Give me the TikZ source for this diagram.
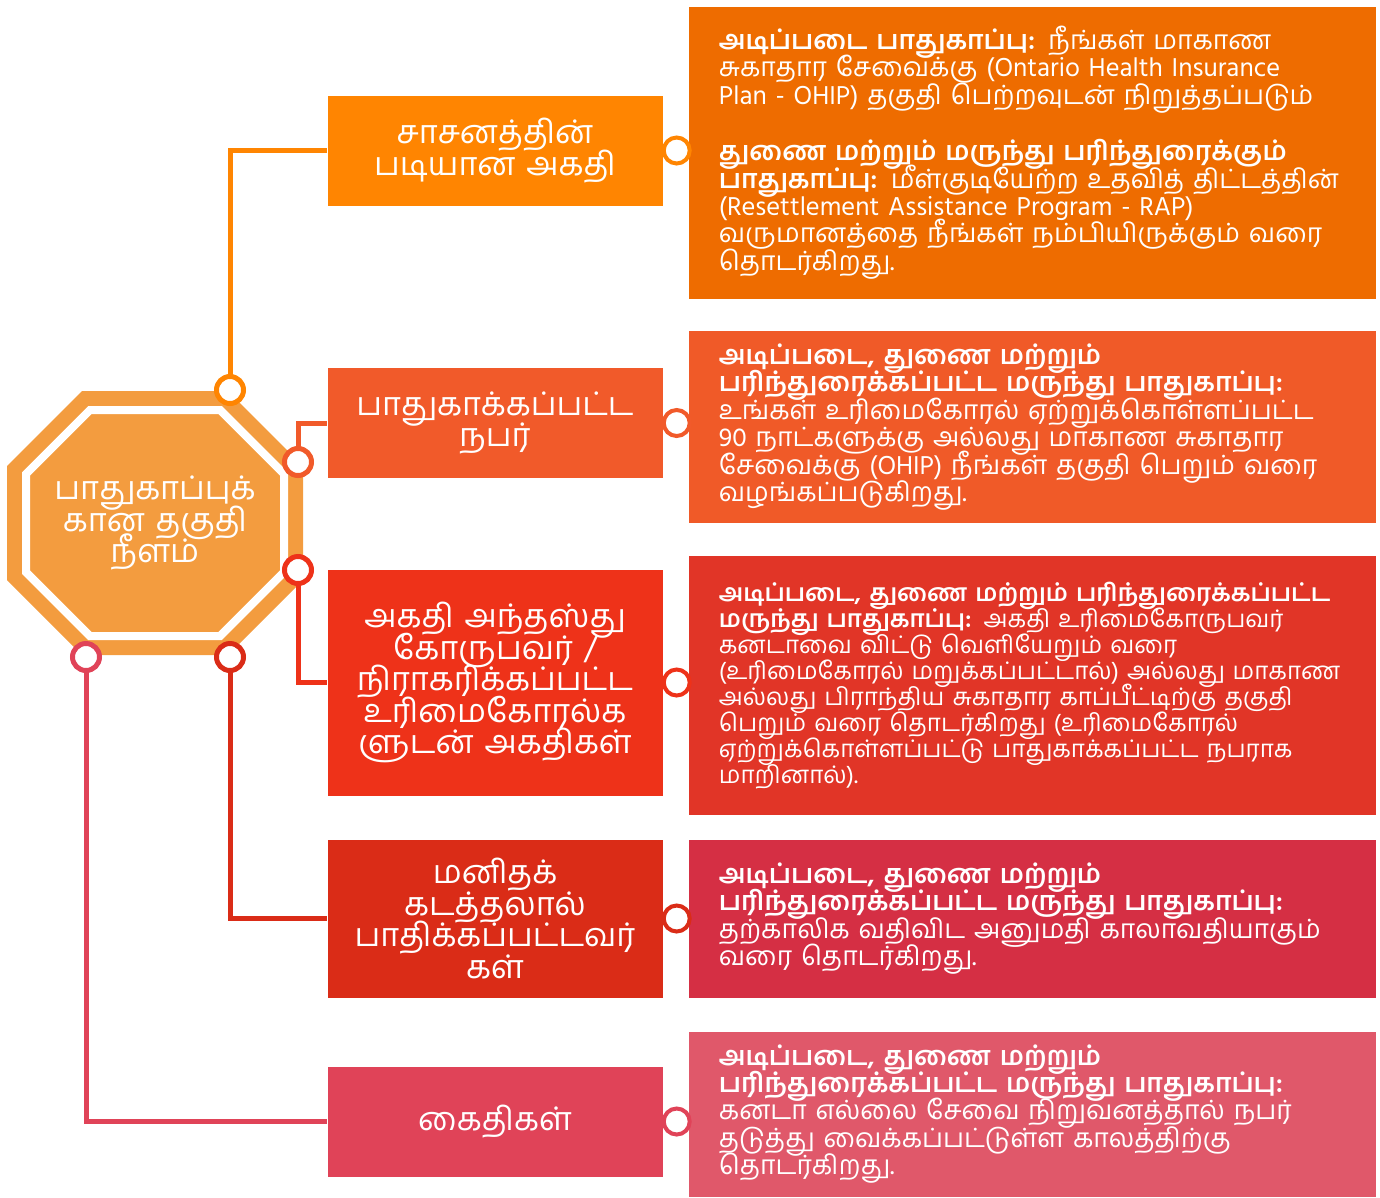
\documentclass[tikz,border=0pt]{standalone}
\usepackage{fontspec}
\setmainfont{Hind Madurai}[Script=Tamil]
\usetikzlibrary{positioning}

\definecolor{octcol}{HTML}{F39C3F}
\definecolor{midacol}{HTML}{FF8501}
\definecolor{midbcol}{HTML}{F15A2A}
\definecolor{midccol}{HTML}{EE3219}
\definecolor{middcol}{HTML}{DA2C17}
\definecolor{midecol}{HTML}{E04358}
\definecolor{infoacol}{HTML}{EE6C00}
\definecolor{infobcol}{HTML}{F05A28}
\definecolor{infoccol}{HTML}{E13527}
\definecolor{infodcol}{HTML}{D52F44}
\definecolor{infoecol}{HTML}{E0586A}

\newcommand{\midfont}{\fontsize{32.5}{31.5}\selectfont\lineskiplimit=-40pt}
\newcommand{\infofont}{\fontsize{26.5}{27.4}\selectfont\lineskiplimit=-40pt}
\newcommand{\infosmallfont}{\fontsize{24.2}{25.9}\selectfont\lineskiplimit=-40pt}

\tikzstyle{midbox}=[rectangle, text=white, minimum width=335pt, minimum height=110pt, inner sep=2pt, text centered, text width=325pt, font=\midfont]
\tikzstyle{infobox}=[rectangle, text=white, inner xsep=30pt, inner ysep=4pt, text width=627pt, align=left, font=\infofont]
\tikzstyle{octtext}=[text=white, text centered, text width=240pt, font=\midfont]
\tikzstyle{dot}=[circle, fill=white, line width=4pt, minimum size=26pt, inner sep=0pt]
\tikzstyle{bigdot}=[dot, line width=5pt, minimum size=27pt]
\tikzstyle{link}=[-, line width=5pt]

\begin{document}
\begin{tikzpicture}[x=1pt, y=-1pt]
\useasboundingbox (0,0) rectangle (1380,1197);

% octagon
    \fill[octcol] (82,391) -- (228,391) -- (303,466) -- (303,580) -- (228,655) -- (82,655) -- (7,580) -- (7,466) -- cycle;
    \draw[white, line width=8pt] (89.9,410) -- (220.1,410) -- (284,473.9) -- (284,572.1) -- (220.1,636) -- (89.9,636) -- (26,572.1) -- (26,473.9) -- cycle;
    \node (oct) [octtext] at (155,523) {பாதுகாப்புக்\\கான தகுதி\\நீளம்};

% middle boxes
    \node (mida) [midbox, fill=midacol] at (495,150.5) {சாசனத்தின்\\படியான அகதி};
    \node (midb) [midbox, fill=midbcol] at (495,423) {பாதுகாக்கப்பட்ட\\நபர்};
    \node (midc) [midbox, fill=midccol, minimum height=226pt] at (495,682.5) {அகதி அந்தஸ்து\\கோருபவர் /\\நிராகரிக்கப்பட்ட\\உரிமைகோரல்க\\ளுடன் அகதிகள்};
    \node (midd) [midbox, fill=middcol, minimum height=158pt] at (495,918.5) {மனிதக்\\கடத்தலால்\\பாதிக்கப்பட்டவர்\\கள்};
    \node (mide) [midbox, fill=midecol] at (495,1121.5) {கைதிகள்};

% info boxes
    \node (infoa) [infobox, fill=infoacol, minimum height=292pt, right=26pt of mida, yshift=-2pt]
    {\textbf{அடிப்படை பாதுகாப்பு:} நீங்கள் மாகாண\\
    சுகாதார சேவைக்கு (Ontario Health Insurance\\
    Plan - OHIP) தகுதி பெற்றவுடன் நிறுத்தப்படும்\\[29pt]
    \textbf{துணை மற்றும் மருந்து பரிந்துரைக்கும்}\\
    \textbf{பாதுகாப்பு:} மீள்குடியேற்ற உதவித் திட்டத்தின்\\
    (Resettlement Assistance Program - RAP)\\
    வருமானத்தை நீங்கள் நம்பியிருக்கும் வரை\\
    தொடர்கிறது.};
    \node (infob) [infobox, fill=infobcol, minimum height=192pt, right=26pt of midb, yshift=-4pt]
    {\textbf{அடிப்படை, துணை மற்றும்}\\
    \textbf{பரிந்துரைக்கப்பட்ட மருந்து பாதுகாப்பு:}\\
    உங்கள் உரிமைகோரல் ஏற்றுக்கொள்ளப்பட்ட\\
    90 நாட்களுக்கு அல்லது மாகாண சுகாதார\\
    சேவைக்கு (OHIP) நீங்கள் தகுதி பெறும் வரை\\
    வழங்கப்படுகிறது.};
    \node (infoc) [infobox, fill=infoccol, minimum height=259pt, right=26pt of midc, yshift=-3pt, font=\infosmallfont]
    {\textbf{அடிப்படை, துணை மற்றும் பரிந்துரைக்கப்பட்ட}\\
    \textbf{மருந்து பாதுகாப்பு:} அகதி உரிமைகோருபவர்\\
    கனடாவை விட்டு வெளியேறும் வரை\\
    (உரிமைகோரல் மறுக்கப்பட்டால்) அல்லது மாகாண\\
    அல்லது பிராந்திய சுகாதார காப்பீட்டிற்கு தகுதி\\
    பெறும் வரை தொடர்கிறது (உரிமைகோரல்\\
    ஏற்றுக்கொள்ளப்பட்டு பாதுகாக்கப்பட்ட நபராக\\
    மாறினால்).};
    \node (infod) [infobox, fill=infodcol, minimum height=158pt, right=26pt of midd]
    {\textbf{அடிப்படை, துணை மற்றும்}\\
    \textbf{பரிந்துரைக்கப்பட்ட மருந்து பாதுகாப்பு:}\\
    தற்காலிக வதிவிட அனுமதி காலாவதியாகும்\\
    வரை தொடர்கிறது.};
    \node (infoe) [infobox, fill=infoecol, minimum height=165pt, right=26pt of mide, yshift=7.5pt]
    {\textbf{அடிப்படை, துணை மற்றும்}\\
    \textbf{பரிந்துரைக்கப்பட்ட மருந்து பாதுகாப்பு:}\\
    கனடா எல்லை சேவை நிறுவனத்தால் நபர்\\
    தடுத்து வைக்கப்பட்டுள்ள காலத்திற்கு\\
    தொடர்கிறது.};

% octagon corners
    \coordinate (ca) at (230,390);
    \coordinate (cb) at (298,462);
    \coordinate (cc) at (298,570);
    \coordinate (cd) at (230,657);
    \coordinate (ce) at (86,657);

   \draw[link, midacol] (ca) |- (mida.west);
   \draw[link, midbcol] (cb) |- (midb.west);
   \draw[link, midccol] (cc) |- (midc.west);
   \draw[link, middcol] (cd) |- (midd.west);
   \draw[link, midecol] (ce) |- (mide.west);

    \node (dota) [bigdot, draw=midacol] at (ca) {};
    \node (dotb) [bigdot, draw=midbcol] at (cb) {};
    \node (dotc) [bigdot, draw=midccol] at (cc) {};
    \node (dotd) [bigdot, draw=middcol] at (cd) {};
    \node (dote) [bigdot, draw=midecol] at (ce) {};

% dots between the boxes
    \node (enda) [dot, draw=midacol, right=-1pt of mida.east] {};
    \node (endb) [dot, draw=midbcol, right=-1pt of midb.east] {};
    \node (endc) [dot, draw=midccol, right=-1pt of midc.east] {};
    \node (endd) [dot, draw=middcol, right=-1pt of midd.east] {};
    \node (ende) [dot, draw=midecol, right=-1pt of mide.east] {};

\end{tikzpicture}
\end{document}
